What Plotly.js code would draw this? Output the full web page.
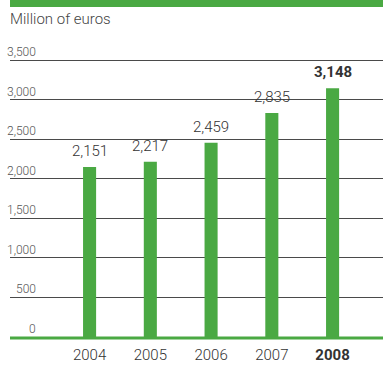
<!DOCTYPE html>
<html>
<head>
<meta charset="utf-8">
<script src="https://cdn.plot.ly/plotly-3.0.1.min.js"></script>
<style>
html,body{margin:0;padding:0;background:#fff;}
#chart{width:383px;height:365px;}
</style>
</head>
<body>
<div id="chart"></div>
<script>
const years = ["2004", "2005", "2006", "2007", "2008"];
const values = [2151, 2217, 2459, 2835, 3148];
const valueLabels = ["2,151", "2,217", "2,459", "2,835", "<b>3,148</b>"];
const yearLabels = ["2004", "2005", "2006", "2007", "<b>2008</b>"];
const yTicks = [0, 500, 1000, 1500, 2000, 2500, 3000, 3500];
const yTickLabels = ["0", "500", "1,000", "1,500", "2,000", "2,500", "3,000", "3,500"];
const unitLabel = "Million of euros";

const GREEN = "#4aa943";
const FONT = "'Liberation Sans Narrow', 'Roboto', sans-serif";

const W = 383, H = 365;
const mL = 10, mR = 0, mT = 58, mB = 28;
const plotW = W - mL - mR, plotH = H - mT - mB;
const pxY = v => v / plotH; // pixel -> paper fraction
const pxX = v => v / plotW;

const annotations = [];
years.forEach((yr, i) => {
  annotations.push({
    x: i, y: values[i], xref: "x", yref: "y",
    text: valueLabels[i], showarrow: false,
    xanchor: "center", yanchor: "bottom", yshift: 5,
    font: {family: FONT, size: 15, color: "#333", weight: 300}
  });
});
yTicks.forEach((t, i) => {
  annotations.push({
    x: pxX(38 - mL), y: t, xref: "paper", yref: "y",
    text: yTickLabels[i], showarrow: false,
    xanchor: "right", yanchor: "bottom", yshift: -1,
    font: {family: FONT, size: 12, color: "#555", weight: 300}
  });
});
annotations.push({
  x: 0, y: 1 + pxY(mT - 19), xref: "paper", yref: "paper",
  text: unitLabel, showarrow: false, xanchor: "left", yanchor: "middle",
  xshift: -2,
  font: {family: FONT, size: 15, color: "#444", weight: 300}
});

const trace = {
  type: "bar",
  x: years,
  y: values,
  marker: {color: GREEN},
  width: 0.215,
  hoverinfo: "skip"
};

const layout = {
  width: W, height: H,
  margin: {l: mL, r: mR, t: mT, b: mB, pad: 0},
  paper_bgcolor: "#fff", plot_bgcolor: "#fff",
  showlegend: false,
  xaxis: {
    type: "category",
    range: [-1.31, 4.83],
    tickvals: years, ticktext: yearLabels,
    showgrid: false, zeroline: false, showline: false,
    ticks: "", ticklabelstandoff: 7,
    tickfont: {family: FONT, size: 15, color: "#333", weight: 300},
    fixedrange: true
  },
  yaxis: {
    range: [0, 3530],
    tickvals: yTicks,
    showticklabels: false,
    showgrid: true, gridcolor: "#4a4a4a", gridwidth: 1,
    zeroline: false, showline: false, ticks: "",
    fixedrange: true
  },
  shapes: [
    {type: "rect", xref: "paper", yref: "paper",
     x0: 0, x1: 1, y0: 1 + pxY(mT - 7), y1: 1 + pxY(mT),
     fillcolor: GREEN, line: {width: 0}, layer: "above"},
    {type: "line", xref: "paper", yref: "paper",
     x0: 0, x1: 1, y0: -pxY(1), y1: -pxY(1),
     line: {color: GREEN, width: 3}, layer: "above"}
  ],
  annotations: annotations
};

Plotly.newPlot("chart", [trace], layout, {staticPlot: true, displayModeBar: false});
</script>
</body>
</html>
